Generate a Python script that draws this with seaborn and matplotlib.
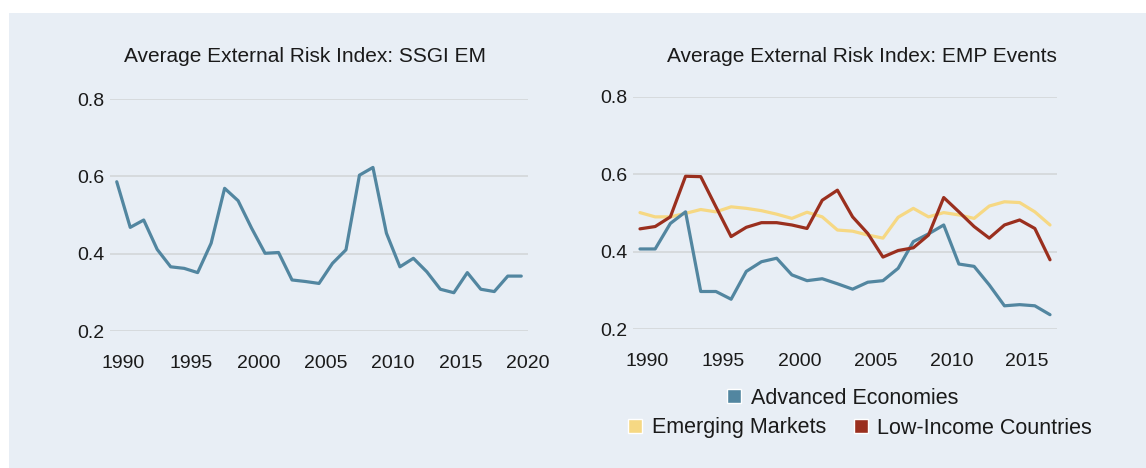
import pandas as pd
import seaborn as sns
import matplotlib.pyplot as plt
from matplotlib.patches import Patch, Rectangle

# =========================
# DATOS
# =========================

years_ssgi = list(range(1990, 2021))
ssgi_em = [0.586, 0.468, 0.487, 0.411, 0.366, 0.362, 0.351, 0.427, 0.569, 0.537,
           0.466, 0.401, 0.403, 0.332, 0.328, 0.323, 0.375, 0.410, 0.603, 0.623,
           0.453, 0.366, 0.388, 0.353, 0.308, 0.299, 0.351, 0.308, 0.302, 0.342,
           0.342]

years_emp = list(range(1990, 2018))
advanced = [0.407, 0.407, 0.473, 0.503, 0.297, 0.297, 0.277, 0.349, 0.374, 0.383,
            0.340, 0.325, 0.330, 0.317, 0.303, 0.321, 0.325, 0.357, 0.426, 0.446,
            0.469, 0.368, 0.362, 0.314, 0.260, 0.263, 0.260, 0.237]
emerging = [0.501, 0.490, 0.490, 0.499, 0.509, 0.503, 0.516, 0.512, 0.506, 0.497,
            0.486, 0.502, 0.490, 0.456, 0.453, 0.443, 0.435, 0.489, 0.512, 0.490,
            0.501, 0.495, 0.486, 0.518, 0.529, 0.527, 0.503, 0.469]
low_income = [0.459, 0.465, 0.490, 0.595, 0.594, 0.516, 0.439, 0.463, 0.475, 0.475,
              0.469, 0.460, 0.533, 0.559, 0.490, 0.447, 0.386, 0.403, 0.410, 0.443,
              0.540, 0.503, 0.465, 0.435, 0.469, 0.482, 0.460, 0.379]

groups = ["Advanced Economies", "Emerging Markets", "Low-Income Countries"]
colores = {"Advanced Economies": "#5286a0",
           "Emerging Markets": "#f6d883",
           "Low-Income Countries": "#9a2f1e"}

df_left = pd.DataFrame({"year": years_ssgi, "value": ssgi_em})
df_right = pd.concat([
    pd.DataFrame({"year": years_emp, "value": v, "group": g})
    for g, v in zip(groups, [advanced, emerging, low_income])
])

# =========================
# FIGURA
# =========================

sns.set_style("white")
plt.rcParams["font.family"] = ["Liberation Sans", "DejaVu Sans"]
fondo = "#e8eef5"

fig = plt.figure(figsize=(11.46, 4.68), dpi=100)
fig.patches.append(Rectangle((9 / 1146, 0), 1, 1 - 13 / 468, transform=fig.transFigure,
                             facecolor=fondo, edgecolor="none", zorder=-10))

ax1 = fig.add_axes([110 / 1146, 1 - 331 / 468, 418 / 1146, 232 / 468])
ax2 = fig.add_axes([633 / 1146, 1 - 329 / 468, 424 / 1146, 232 / 468])

sns.lineplot(data=df_left, x="year", y="value", color=colores["Advanced Economies"],
             linewidth=2.3, ax=ax1)
sns.lineplot(data=df_right, x="year", y="value", hue="group", palette=colores,
             hue_order=["Emerging Markets", "Advanced Economies", "Low-Income Countries"],
             linewidth=2.3, ax=ax2, legend=False)

for ax, (x0, x1), last in [(ax1, (1989.5, 2020.45), 2020), (ax2, (1989.54, 2017.46), 2015)]:
    ax.set_facecolor("none")
    ax.set_xlim(x0, x1)
    ax.set_ylim(0.2, 0.8)
    ax.set_yticks([0.2, 0.4, 0.6, 0.8])
    ax.set_yticklabels(["0.2", "0.4", "0.6", "0.8"])
    ticks = list(range(1990, last + 1, 5))
    ax.set_xticks([t + 0.5 for t in ticks])
    ax.set_xticklabels([str(t) for t in ticks])
    ax.grid(axis="y", color="#d3d6d9", linewidth=1.2)
    ax.set_axisbelow(True)
    for s in ax.spines.values():
        s.set_visible(False)
    ax.tick_params(axis="both", length=0, labelsize=14, colors="#1a1a1a")
    ax.tick_params(axis="x", pad=17)
    ax.tick_params(axis="y", pad=4)
    ax.set_xlabel("")
    ax.set_ylabel("")

fig.text(305 / 1146, 1 - 57 / 468, "Average External Risk Index: SSGI EM",
         ha="center", va="center", fontsize=15, color="#1a1a1a")
fig.text(862 / 1146, 1 - 57 / 468, "Average External Risk Index: EMP Events",
         ha="center", va="center", fontsize=15, color="#1a1a1a")

# leyenda en dos filas
h1 = [Patch(facecolor=colores["Advanced Economies"], label="Advanced Economies")]
h2 = [Patch(facecolor=colores["Emerging Markets"], label="Emerging Markets"),
      Patch(facecolor=colores["Low-Income Countries"], label="Low-Income Countries")]
leg_kw = dict(frameon=False, fontsize=15.5, handlelength=0.65, handleheight=0.65,
              handletextpad=0.45, labelcolor="#1a1a1a")
fig.legend(handles=h1, loc="center", bbox_to_anchor=(843 / 1146, 1 - 398 / 468), **leg_kw)
fig.legend(handles=h2, loc="center", ncol=2, columnspacing=1.3,
           bbox_to_anchor=(860 / 1146, 1 - 428 / 468), **leg_kw)

fig.savefig("out.png", dpi=100)
